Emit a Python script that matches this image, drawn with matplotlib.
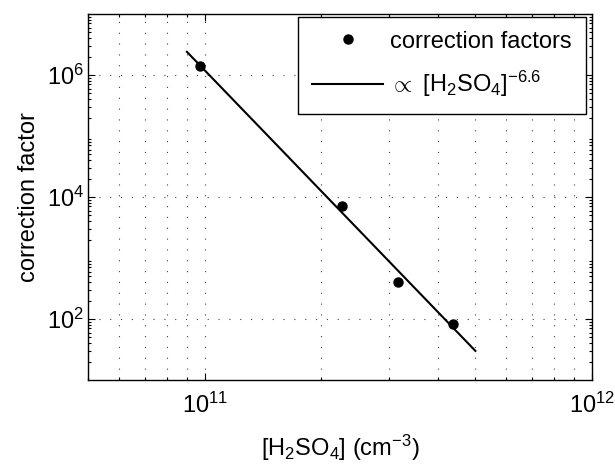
import matplotlib
matplotlib.use('Agg')
from matplotlib import pyplot as plt
from matplotlib.ticker import LogLocator, NullFormatter, FixedLocator

plt.rcParams['font.family'] = ['Liberation Sans', 'DejaVu Sans']
plt.rcParams['mathtext.fontset'] = 'custom'
plt.rcParams['mathtext.rm'] = 'Liberation Sans'
plt.rcParams['mathtext.it'] = 'Liberation Sans:italic'
plt.rcParams['mathtext.bf'] = 'Liberation Sans:bold'
plt.rcParams['font.size'] = 17
plt.rcParams['lines.scale_dashes'] = False

# correction factors
h2so4 = [9.75e10, 2.26e11, 3.15e11, 4.39e11]
factors = [1.4e6, 7.1e3, 400, 82]

# power law fit, ~ [H2SO4]^-6.6, end points
fit_x = [9.0e10, 5.0e11]
fit_y = [2.4e6, 30]

fig = plt.figure(figsize=(6.15, 4.65), dpi=100)
ax = fig.add_axes([88 / 615, 1 - 380 / 465, 504 / 615, 366 / 465])

ax.plot(h2so4, factors, 'o', color='black', markersize=6.5, label='correction factors')
ax.plot(fit_x, fit_y, '-', color='black', linewidth=1.5,
        label=r'$\propto$ [H$_2$SO$_4$]$^{-6.6}$')

ax.set_xscale('log')
ax.set_yscale('log')
ax.set_xlim(5e10, 1e12)
ax.set_ylim(10, 1e7)

ax.xaxis.set_major_locator(FixedLocator([1e11, 1e12]))
ax.xaxis.set_minor_locator(LogLocator(base=10, subs=range(2, 10)))
ax.xaxis.set_minor_formatter(NullFormatter())
ax.yaxis.set_major_locator(FixedLocator([1e2, 1e4, 1e6]))
ax.yaxis.set_minor_locator(LogLocator(base=10, subs=range(2, 10), numticks=20))
ax.yaxis.set_minor_formatter(NullFormatter())

ax.tick_params(which='both', direction='in', top=True, right=True, width=0.8)
ax.tick_params(which='major', length=5)
ax.tick_params(which='minor', length=2.5)
ax.tick_params(axis='x', which='major', pad=9)
ax.tick_params(axis='y', which='major', pad=3)

dots = (0, (0.8, 7))
ax.grid(True, which='major', axis='both', color='0.25', linestyle=dots, linewidth=0.8)
ax.grid(True, which='minor', axis='x', color='0.25', linestyle=dots, linewidth=0.8)

for s in ax.spines.values():
    s.set_linewidth(1.0)

ax.set_xlabel(r'[H$_2$SO$_4$] (cm$^{-3}$)', labelpad=11)
ax.set_ylabel('correction factor', labelpad=5)

leg = ax.legend(loc='upper right', bbox_to_anchor=(0.988, 0.993), fancybox=False,
                framealpha=1, edgecolor='black', handlelength=3.0, handletextpad=0.3,
                borderpad=0.6, labelspacing=0.7, borderaxespad=0)
leg.get_frame().set_linewidth(1.0)

plt.savefig('out.png', dpi=100)
